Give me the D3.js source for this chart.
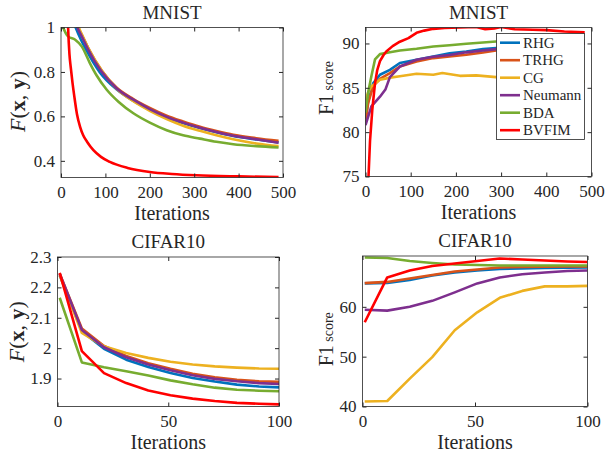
<!DOCTYPE html>
<html>
<head>
<meta charset="UTF-8">
<style>
  body { margin: 0; background: #fff; }
  text { font-family: "Liberation Serif", "DejaVu Serif", serif; font-weight: normal; fill: #262626; }
</style>
</head>
<body>
<div id="chart"></div>
<script src="https://d3js.org/d3.v7.min.js"></script>
<script>
// ---- data ----
var methods = ["RHG", "TRHG", "CG", "Neumann", "BDA", "BVFIM"];

// MNIST, upper-level objective F(x,y): [iteration, value]
var mnistLossRHG = [[0,1.2],[33,1.0],[45,0.945],[58,0.895],[88,0.797],[125,0.722],[163,0.67],[200,0.63],[238,0.596],[275,0.57],[313,0.548],[350,0.529],[388,0.512],[440,0.496],[490,0.483]];
var mnistLossTRHG = [[0,1.3],[39,1.0],[50,0.955],[62,0.905],[92,0.805],[125,0.73],[163,0.678],[200,0.638],[238,0.603],[275,0.577],[313,0.553],[350,0.534],[388,0.517],[440,0.502],[490,0.49]];
var mnistLossCG = [[0,1.3],[40,1.0],[50,0.955],[62,0.905],[92,0.805],[125,0.725],[163,0.668],[200,0.625],[238,0.588],[275,0.558],[313,0.535],[350,0.515],[388,0.497],[440,0.478],[490,0.466]];
var mnistLossNeumann = [[0,1.3],[37,1.0],[48,0.955],[60,0.905],[90,0.805],[125,0.727],[163,0.675],[200,0.633],[238,0.598],[275,0.572],[313,0.549],[350,0.53],[388,0.513],[440,0.497],[490,0.481]];
var mnistLossBDA = [[0,1.03],[5,1.0],[16,0.96],[32,0.945],[47,0.914],[65,0.84],[80,0.785],[103,0.72],[130,0.665],[163,0.614],[200,0.572],[238,0.538],[275,0.515],[313,0.5],[350,0.486],[388,0.475],[440,0.466],[490,0.46]];
var mnistLossBVFIM = [[12,1.3],[16,1.0],[19,0.88],[22,0.82],[26,0.75],[30,0.69],[36,0.61],[43,0.553],[50,0.515],[59,0.485],[73,0.448],[90,0.418],[110,0.395],[150,0.368],[200,0.35],[250,0.341],[305,0.335],[400,0.33],[490,0.327]];

// MNIST, F1 score: [iteration, value]
var mnistF1RHG = [[0,81.5],[6,83.5],[17,85.5],[32,86.47],[54,87.03],[76,87.8],[113,88.16],[150,88.53],[186,88.9],[223,89.1],[260,89.36],[289,89.47],[350,89.7],[420,89.9],[485,90.1]];
var mnistF1TRHG = [[0,81.2],[6,83.3],[17,85.2],[32,86.0],[54,86.66],[76,87.4],[113,87.97],[150,88.35],[186,88.53],[223,88.72],[260,88.98],[289,89.2],[350,89.5],[420,89.8],[485,90.0]];
var mnistF1CG = [[0,83.6],[6,84.5],[13,85.15],[32,85.9],[55,86.15],[76,86.3],[113,86.58],[150,86.47],[170,86.66],[209,86.35],[245,86.4],[289,86.2],[350,86.0],[420,85.9],[485,85.7]];
var mnistF1Neumann = [[0,80.8],[13,82.9],[32,84.0],[44,84.8],[54,86.2],[76,87.4],[113,88.16],[150,88.5],[186,88.7],[223,89.0],[260,89.2],[289,89.36],[350,89.6],[420,89.8],[485,89.96]];
var mnistF1BDA = [[0,82.2],[6,84.5],[13,86.3],[21,88.2],[32,88.8],[54,89.0],[76,89.2],[113,89.4],[150,89.66],[186,89.8],[223,89.96],[260,90.1],[289,90.22],[350,90.3],[420,90.3],[485,90.35]];
var mnistF1BVFIM = [[0,60],[5,73],[10,79],[15,82.5],[21,85.5],[26,87],[32,88],[40,88.7],[46,89.1],[60,89.7],[76,90.2],[95,90.6],[113,91.2],[130,91.45],[150,91.65],[175,91.75],[209,91.8],[245,91.85],[265,91.6],[285,91.7],[300,91.85],[330,91.6],[370,91.55],[400,91.5],[440,91.35],[485,91.25]];

// CIFAR10, recorded every 10 iterations
var cifarIters = [1, 11, 21, 31, 41, 51, 61, 71, 81, 91, 100];

var cifarLossRHG = [2.24, 2.056, 1.998, 1.962, 1.938, 1.918, 1.902, 1.89, 1.88, 1.874, 1.871];
var cifarLossTRHG = [2.245, 2.065, 2.007, 1.974, 1.95, 1.932, 1.916, 1.904, 1.896, 1.891, 1.889];
var cifarLossCG = [2.24, 2.05, 2.006, 1.984, 1.968, 1.955, 1.946, 1.94, 1.936, 1.933, 1.932];
var cifarLossNeumann = [2.245, 2.06, 2.003, 1.97, 1.946, 1.927, 1.911, 1.899, 1.891, 1.885, 1.882];
var cifarLossBDA = [2.166, 1.953, 1.937, 1.924, 1.91, 1.894, 1.881, 1.87, 1.863, 1.86, 1.858];
var cifarLossBVFIM = [2.248, 1.99, 1.918, 1.885, 1.861, 1.845, 1.834, 1.826, 1.82, 1.817, 1.815];

var cifarF1RHG = [64.7, 64.8, 65.4, 66.3, 66.9, 67.3, 67.6, 67.7, 67.8, 67.85, 67.9];
var cifarF1TRHG = [64.75, 65.0, 65.7, 66.4, 67.1, 67.5, 67.9, 68.0, 68.05, 68.1, 68.1];
var cifarF1CG = [41.0, 41.1, 45.6, 49.9, 55.3, 58.9, 61.8, 63.2, 64.1, 64.1, 64.2];
var cifarF1Neumann = [59.4, 59.24, 60.0, 61.2, 62.9, 64.7, 65.9, 66.55, 66.9, 67.2, 67.3];
var cifarF1BDA = [69.9, 69.8, 69.2, 68.8, 68.5, 68.4, 68.3, 68.3, 68.3, 68.3, 68.3];
var cifarF1BVFIM = [56.9, 65.9, 67.3, 68.2, 68.7, 69.2, 69.7, 69.5, 69.3, 69.1, 69.0];

var mnistXTicks = [0, 100, 200, 300, 400, 500];
var cifarXTicks = [0, 50, 100];
var mnistLossYTicks = [0.4, 0.6, 0.8, 1];
var mnistF1YTicks = [75, 80, 85, 90];
var cifarLossYTicks = [1.9, 2, 2.1, 2.2, 2.3];
var cifarF1YTicks = [40, 50, 60];

// ---- styling / layout ----
var colors = ["#0072BD", "#D95319", "#EDB120", "#7E2F8E", "#77AC30", "#FF0000"];

function zipIters(vals) {
  return vals.map(function(v, i) { return [cifarIters[i], v]; });
}

var panels = [
  { title: "MNIST", ylab: "F", box: [61, 283, 27.5, 177.5], xd: [0, 500], yd: [0.325, 1],
    xt: mnistXTicks, yt: mnistLossYTicks, curve: d3.curveMonotoneX, ylx: 36, yly: -1,
    series: [mnistLossRHG, mnistLossTRHG, mnistLossCG, mnistLossNeumann, mnistLossBDA, mnistLossBVFIM] },
  { title: "MNIST", ylab: "F1", box: [365.5, 591.5, 27.5, 176.5], xd: [0, 500], yd: [75, 91.8],
    xt: mnistXTicks, yt: mnistF1YTicks, curve: d3.curveLinear, legend: true, ylx: 33, yly: -14,
    series: [mnistF1RHG, mnistF1TRHG, mnistF1CG, mnistF1Neumann, mnistF1BDA, mnistF1BVFIM] },
  { title: "CIFAR10", ylab: "F", box: [57.5, 279, 257, 406.5], xd: [0, 100], yd: [1.808, 2.3],
    xt: cifarXTicks, yt: cifarLossYTicks, curve: d3.curveLinear, ylx: 34, yly: 0,
    series: [cifarLossRHG, cifarLossTRHG, cifarLossCG, cifarLossNeumann, cifarLossBDA, cifarLossBVFIM].map(zipIters) },
  { title: "CIFAR10", ylab: "F1", box: [362.5, 587.5, 256, 406.5], xd: [0, 100], yd: [40, 70.2],
    xt: cifarXTicks, yt: cifarF1YTicks, curve: d3.curveLinear, ylx: 30, yly: 8,
    series: [cifarF1RHG, cifarF1TRHG, cifarF1CG, cifarF1Neumann, cifarF1BDA, cifarF1BVFIM].map(zipIters) }
];

var svg = d3.select("#chart").append("svg")
  .attr("width", 605)
  .attr("height", 459);

var fmt = d3.format("~g");

panels.forEach(function(p, pi) {
  var x0 = p.box[0], x1 = p.box[1], y0 = p.box[2], y1 = p.box[3];
  var x = d3.scaleLinear().domain(p.xd).range([x0, x1]);
  var y = d3.scaleLinear().domain(p.yd).range([y1, y0]);

  var g = svg.append("g");

  g.append("clipPath").attr("id", "clip" + pi)
    .append("rect")
    .attr("x", x0).attr("y", y0)
    .attr("width", x1 - x0).attr("height", y1 - y0);

  var line = d3.line()
    .curve(p.curve)
    .x(function(d) { return x(d[0]); })
    .y(function(d) { return y(d[1]); });

  var lines = g.append("g").attr("clip-path", "url(#clip" + pi + ")");
  p.series.forEach(function(s, i) {
    lines.append("path")
      .datum(s)
      .attr("fill", "none")
      .attr("stroke", colors[i])
      .attr("stroke-width", 2.6)
      .attr("stroke-linejoin", "round")
      .attr("d", line);
  });

  // axes: labelled bottom/left, mirrored ticks top/right, all ticks pointing in
  var noDomain = function(a) { a.select(".domain").remove(); };

  g.append("g").attr("transform", "translate(0," + y1 + ")")
    .call(d3.axisBottom(x).tickValues(p.xt).tickFormat(fmt).tickSize(-4).tickPadding(8))
    .call(noDomain);
  g.append("g").attr("transform", "translate(0," + y0 + ")")
    .call(d3.axisTop(x).tickValues(p.xt).tickFormat("").tickSize(-4))
    .call(noDomain);
  g.append("g").attr("transform", "translate(" + x0 + ",0)")
    .call(d3.axisLeft(y).tickValues(p.yt).tickFormat(fmt).tickSize(-4).tickPadding(6))
    .call(noDomain);
  g.append("g").attr("transform", "translate(" + x1 + ",0)")
    .call(d3.axisRight(y).tickValues(p.yt).tickFormat("").tickSize(-4))
    .call(noDomain);

  g.selectAll(".tick line").attr("stroke", "#262626");
  g.selectAll(".tick text")
    .attr("font-size", 17)
    .attr("fill", "#262626");

  g.append("rect")
    .attr("x", x0).attr("y", y0)
    .attr("width", x1 - x0).attr("height", y1 - y0)
    .attr("fill", "none")
    .attr("stroke", "#262626")
    .attr("stroke-width", 0.8);

  var cx = (x0 + x1) / 2, cy = (y0 + y1) / 2;

  g.append("text")
    .attr("x", cx).attr("y", y0 - 9)
    .attr("text-anchor", "middle")
    .attr("font-size", 19)
    .text(p.title);

  g.append("text")
    .attr("x", cx).attr("y", y1 + 42)
    .attr("text-anchor", "middle")
    .attr("font-size", 20)
    .text("Iterations");

  var yl = g.append("text")
    .attr("transform", "translate(" + (x0 - p.ylx) + "," + (cy + p.yly) + ") rotate(-90)")
    .attr("text-anchor", "middle");
  if (p.ylab === "F") {
    yl.attr("font-size", 22);
    yl.append("tspan").attr("font-style", "italic").text("F");
    yl.append("tspan").text("(");
    yl.append("tspan").style("font-weight", "bold").text("x");
    yl.append("tspan").text(", ");
    yl.append("tspan").style("font-weight", "bold").text("y");
    yl.append("tspan").text(")");
  } else {
    yl.attr("font-size", 20);
    yl.append("tspan").text("F1");
    yl.append("tspan").attr("font-size", 14).text(" score");
  }

  if (p.legend) {
    var lg = g.append("g");
    lg.append("rect")
      .attr("x", 496.5).attr("y", 33.5)
      .attr("width", 88).attr("height", 106)
      .attr("fill", "#fff")
      .attr("stroke", "#262626")
      .attr("stroke-width", 0.8);
    methods.forEach(function(m, i) {
      var ly = 42.7 + i * 17.5;
      lg.append("line")
        .attr("x1", 500).attr("x2", 520)
        .attr("y1", ly).attr("y2", ly)
        .attr("stroke", colors[i])
        .attr("stroke-width", 2.6);
      lg.append("text")
        .attr("x", 523).attr("y", ly + 5)
        .attr("font-size", 15)
        .text(m);
    });
  }
});
</script>
</body>
</html>
